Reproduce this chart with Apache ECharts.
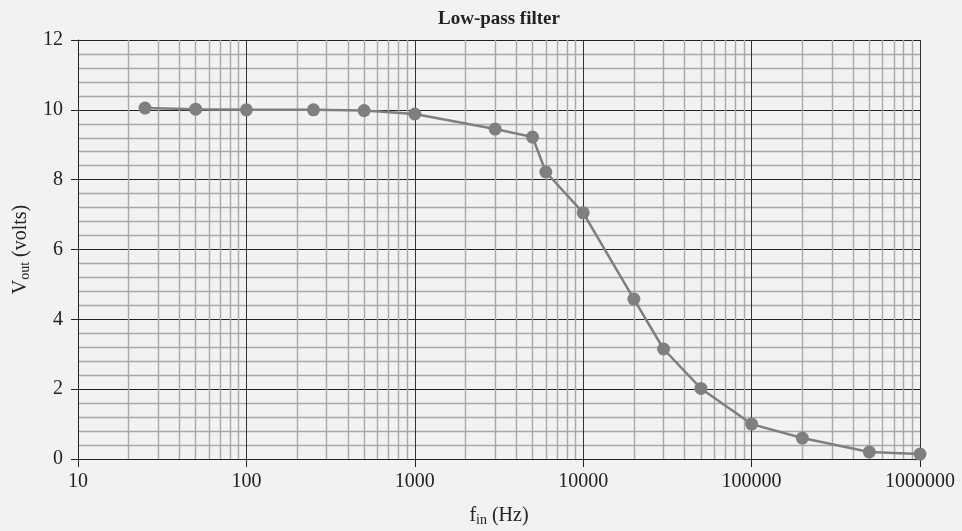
<!DOCTYPE html>
<html>
<head>
<meta charset="utf-8">
<script src="https://cdn.jsdelivr.net/npm/echarts@6/dist/echarts.min.js"></script>
<style>
  html, body { margin: 0; padding: 0; background: #f2f2f2; }
  #chart { width: 962px; height: 531px; }
</style>
</head>
<body>
<div id="chart"></div>
<script>
// frequency (Hz) and output voltage
const freqs = [25, 50, 100, 250, 500, 1000, 3000, 5000, 6000, 10000, 20000, 30000, 50000, 100000, 200000, 500000, 1000000];
const vout = [10.05, 10.02, 10.0, 10.0, 9.98, 9.88, 9.45, 9.22, 8.22, 7.05, 4.58, 3.15, 2.02, 1.0, 0.6, 0.2, 0.14];

const serif = "Liberation Serif";

const chart = echarts.init(document.getElementById("chart"));
const option = {
  backgroundColor: "#f2f2f2",
  animation: false,
  title: {
    text: "Low-pass filter",
    left: 433,
    top: 5,
    textStyle: { fontFamily: serif, fontSize: 19, fontWeight: "bold", color: "#222" },
  },
  grid: { left: 78, right: 42, top: 40, bottom: 72, outerBoundsMode: "none", containLabel: false },
  xAxis: {
    type: "log",
    logBase: 10,
    min: 10,
    max: 1000000,
    name: "{m|f}{s|in}{m| (Hz)}",
    nameLocation: "middle",
    nameGap: 45,
    nameTextStyle: {
      rich: {
        m: { fontFamily: serif, fontSize: 20, color: "#222" },
        s: { fontFamily: serif, fontSize: 14, color: "#222", verticalAlign: "bottom", padding: [9, 0, 0, 0] },
      },
    },
    axisLine: { show: true, lineStyle: { color: "#222", width: 1 } },
    axisTick: { show: true, length: 8, lineStyle: { color: "#222" } },
    axisLabel: {
      fontFamily: serif,
      fontSize: 20,
      color: "#222",
      margin: 13,
      formatter: (v) => String(Math.round(v)),
    },
    splitLine: { show: true, lineStyle: { color: "#333", width: 1 } },
    minorTick: { show: false, splitNumber: 9 },
    minorSplitLine: { show: true, lineStyle: { color: "#a8a8a8", width: 1.4 } },
  },
  yAxis: {
    type: "value",
    min: 0,
    max: 12,
    interval: 2,
    name: "{m|V}{s|out}{m| (volts)}",
    nameLocation: "middle",
    nameGap: 46,
    nameRotate: 90,
    nameTextStyle: {
      rich: {
        m: { fontFamily: serif, fontSize: 20, color: "#222" },
        s: { fontFamily: serif, fontSize: 14, color: "#222", verticalAlign: "bottom", padding: [9, 0, 0, 0] },
      },
    },
    axisLine: { show: true, lineStyle: { color: "#222", width: 1 } },
    axisTick: { show: true, length: 7, lineStyle: { color: "#222" } },
    axisLabel: { fontFamily: serif, fontSize: 20, color: "#222", margin: 15 },
    splitLine: { show: true, lineStyle: { color: "#222", width: 1 } },
    minorTick: { show: false, splitNumber: 5 },
    minorSplitLine: { show: true, lineStyle: { color: "#a8a8a8", width: 1.4 } },
  },
  series: [
    {
      type: "line",
      data: freqs.map((f, i) => [f, vout[i]]),
      symbol: "circle",
      symbolSize: 13,
      lineStyle: { color: "#7f7f7f", width: 2.5 },
      itemStyle: { color: "#7f7f7f" },
    },
  ],
};
chart.setOption(option);
</script>
</body>
</html>
